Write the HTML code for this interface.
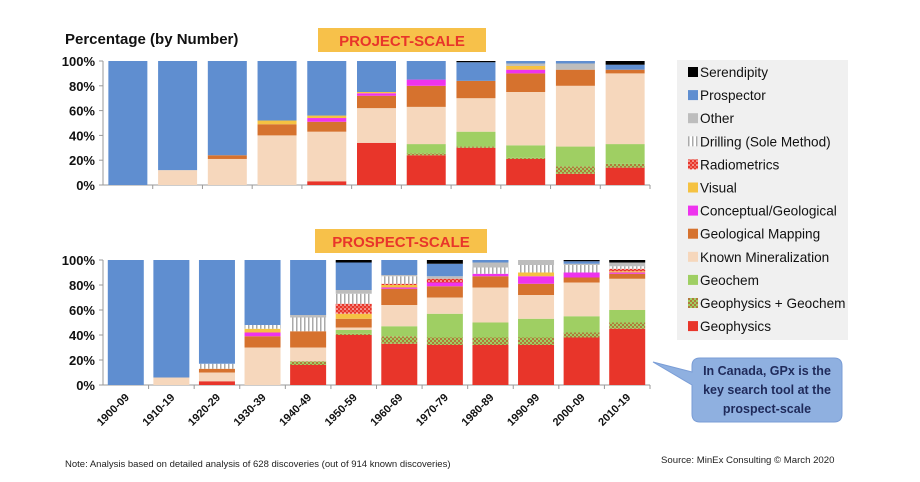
<!DOCTYPE html>
<html><head><meta charset="utf-8"><style>
body{margin:0;background:#fff;font-family:"Liberation Sans",sans-serif}
svg{display:block}
</style></head><body>
<svg id="chart" width="920" height="482" viewBox="0 0 920 482" xmlns="http://www.w3.org/2000/svg">
<defs>
<pattern id="pGG" width="4" height="4" patternUnits="userSpaceOnUse"><rect width="4" height="4" fill="#b07a3a"/><rect width="2" height="2" fill="#9fcf63"/><rect x="2" y="2" width="2" height="2" fill="#9fcf63"/></pattern>
<pattern id="pRad" width="4" height="4" patternUnits="userSpaceOnUse"><rect width="4" height="4" fill="#e8352a"/><circle cx="1" cy="1" r="0.8" fill="#fff"/><circle cx="3" cy="3" r="0.8" fill="#f7b0a0"/></pattern>
<pattern id="pDr" width="4" height="4" patternUnits="userSpaceOnUse"><rect width="4" height="4" fill="#fff"/><rect width="1.5" height="4" fill="#aaa"/></pattern>
</defs>
<text x="65" y="44" font-size="15" font-weight="bold" fill="#111">Percentage (by Number)</text>
<g><rect x="318" y="28" width="168" height="24" fill="#f7c14a"/><text x="402" y="46" text-anchor="middle" font-size="15" font-weight="bold" fill="#e8352a">PROJECT-SCALE</text></g>
<g><rect x="315" y="229" width="172" height="24" fill="#f7c14a"/><text x="401" y="247" text-anchor="middle" font-size="15" font-weight="bold" fill="#e8352a">PROSPECT-SCALE</text></g>
<g id="top"></g>
<g id="bot"></g>
<g id="legend"><rect x="677" y="60" width="171" height="280" fill="#f0f0f0"/></g>
<g>
<path d="M704,358 H834 Q842,358 842,366 V414 Q842,422 834,422 H700 Q692,422 692,414 V385 L653,362 L692,372 V366 Q692,358 700,358 Z" fill="#8fb0e0" stroke="#7a9dd6" stroke-width="1"/>
<text font-size="12.5" font-weight="bold" fill="#1f2a5a" text-anchor="middle"><tspan x="767" y="375">In Canada, GPx is the</tspan><tspan x="767" y="394">key search tool at the</tspan><tspan x="767" y="413">prospect-scale</tspan></text>
</g>
<text x="65" y="467" font-size="9.5" fill="#222">Note: Analysis based on detailed analysis of 628 discoveries (out of 914 known discoveries)</text>
<text x="661" y="463" font-size="9.6" fill="#222">Source: MinEx Consulting  © March 2020</text>
</svg>
<script>
const seriesNames=["Geophysics","Geophysics + Geochem","Geochem","Known Mineralization","Geological Mapping","Conceptual/Geological","Visual","Radiometrics","Drilling (Sole Method)","Other","Prospector","Serendipity"];
const fills=["#e8352a","url(#pGG)","#9fcf63","#f6d7bc","#d6722e","#ee33ee","#f5c242","url(#pRad)","url(#pDr)","#bdbdbd","#5f8ed0","#000"];
const legendFills=["#000","#5f8ed0","#bdbdbd","url(#pDr)","url(#pRad)","#f5c242","#ee33ee","#d6722e","#f6d7bc","#9fcf63","url(#pGG)","#e8352a"];
const legendNames=["Serendipity","Prospector","Other","Drilling (Sole Method)","Radiometrics","Visual","Conceptual/Geological","Geological Mapping","Known Mineralization","Geochem","Geophysics + Geochem","Geophysics"];
const categories=["1900-09","1910-19","1920-29","1930-39","1940-49","1950-59","1960-69","1970-79","1980-89","1990-99","2000-09","2010-19"];
const topCategories=["1910-19","1920-29","1930-39","1940-49","1950-59","1960-69","1970-79","1980-89","1990-99","2000-09","2010-19"];
const yTicks=[0,20,40,60,80,100];
const projectValues=[
[0,0,0,0,0,0,0,0,0,0,100,0],
[0,0,0,12,0,0,0,0,0,0,88,0],
[0,0,0,21,3,0,0,0,0,0,76,0],
[0,0,0,40,9,0,3,0,0,0,48,0],
[3,0,0,40,8,3,2,0,0,0,44,0],
[34,0,0,28,10,2,1,0,0,0,25,0],
[24,1.5,7.5,30,17,5,0,0,0,0,15,0],
[30,1,12,27,14,0,0,0,0,0,15,1],
[21,1,10,43,15,3,3,0,0,2,2,0],
[9,6,16,49,13,0,0,0,0,5,2,0],
[14,3,16,57,3,0,0,0,0,0,4,3]];
const prospectValues=[
[0,0,0,0,0,0,0,0,0,0,100,0],
[0,0,0,6,0,0,0,0,0,0,94,0],
[3,0,0,7,3,0,0,0,4,0,83,0],
[0,0,0,30,9,3,3,0,3,0,52,0],
[16,3,0,11,13,0,0,0,11,2,44,0],
[40,1,3,2,7,0,4,8,8,3,22,2],
[33,6,8,17,13,1,2,1,6,1,12,0],
[32,6,19,13,9,3,0,3,0,2,10,3],
[32,6,12,28,9,2,0,0,5,4,2,0],
[32,6,15,19,9,6,3,0,6,4,0,0],
[38,4,13,27,4,4,0,0,6,1,2,1],
[45,5,10,25,4,1,1,2,2,3,0,2]];
const NS="http://www.w3.org/2000/svg";
function mk(p,t,a){const e=document.createElementNS(NS,t);for(const k in a)e.setAttribute(k,a[k]);p.appendChild(e);return e;}
function drawChart(g,cats,vals,y0,y100,labels,bw){
  const x0=103,x1=650,step=(x1-x0)/cats.length;
  const yS=v=>y0-(y0-y100)*v/100;
  for(const t of yTicks){
    const tx=mk(g,"text",{x:95,y:yS(t)+5,"text-anchor":"end","font-size":"13","font-weight":"bold",fill:"#111"});
    tx.textContent=t+"%";
    
    
    mk(g,"line",{x1:x0-4,x2:x0,y1:yS(t),y2:yS(t),stroke:"#999"});
  }
  mk(g,"line",{x1:x0,x2:x0,y1:y100,y2:y0,stroke:"#999"});
  mk(g,"line",{x1:x0,x2:x1,y1:y0,y2:y0,stroke:"#999"});
  cats.forEach((c,i)=>{
    const cx=x0+step*(i+0.5);
    mk(g,"line",{x1:x0+step*(i+1),x2:x0+step*(i+1),y1:y0,y2:y0+4,stroke:"#999"});
    let acc=0;
    vals[i].forEach((v,s)=>{
      if(v<=0)return;
      const r=mk(g,"rect",{x:cx-bw/2,y:yS(acc+v),width:bw,height:yS(acc)-yS(acc+v),fill:fills[s]});
      
      
      acc+=v;
    });
    if(labels){
      const t=mk(g,"text",{x:cx+4,y:y0+13,"text-anchor":"end","font-size":"11","font-weight":"bold",fill:"#111",transform:`rotate(-45 ${cx+4} ${y0+13})`});
      t.textContent=c;
      
      
    }
  });
}
drawChart(document.getElementById("top"),topCategories,projectValues,185,61,false,39);
drawChart(document.getElementById("bot"),categories,prospectValues,385,260,true,36);
const lg=document.getElementById("legend");
legendNames.forEach((n,i)=>{
  const y=72+i*23.1;
  const sw=mk(lg,"rect",{x:688,y:y-5,width:10,height:10,fill:legendFills[i]});
  
  
  const t=mk(lg,"text",{x:700,y:y+5,"font-size":"13.6",fill:"#111"});
  t.textContent=n;
  
  
});
</script>
</body></html>
